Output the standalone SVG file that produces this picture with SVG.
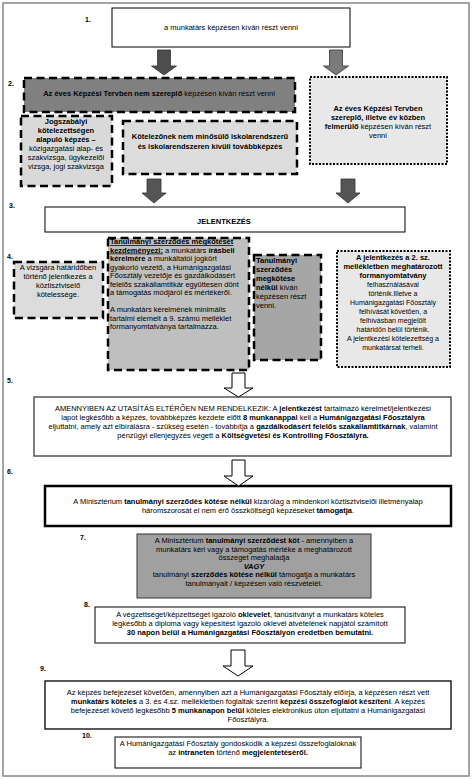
<svg xmlns="http://www.w3.org/2000/svg" width="472" height="779" viewBox="0 0 472 779">
<style>
text{font-family:"Liberation Sans",Arial,sans-serif;fill:#000;font-size:7.5px}
.c{text-anchor:middle}
.b{font-weight:bold}
.n{font-size:7px;font-weight:bold}
.plain{fill:#fff;stroke:#000;stroke-width:1}
.dash{stroke:#000;stroke-width:2.5;stroke-dasharray:8 4.5}
.dot{stroke:#000;stroke-width:2;stroke-dasharray:2 1.5}
.solidarrow{fill:#555;stroke:#333;stroke-width:0.8}
.hollow{fill:#fff;stroke:#000;stroke-width:1}
.u{text-decoration:underline}
</style>
<rect x="0" y="0" width="472" height="779" fill="#fff"/>
<rect x="3" y="3" width="466" height="773" fill="none" stroke="#888" stroke-width="1.5"/>

<g id="labels">
<text class="n" x="85" y="22">1.</text>
<text class="n" x="8" y="86">2.</text>
<text class="n" x="9" y="208">3.</text>
<text class="n" x="7" y="259">4.</text>
<text class="n" x="7" y="383">5.</text>
<text class="n" x="7" y="474">6.</text>
<text class="n" x="80" y="540">7.</text>
<text class="n" x="84" y="607">8.</text>
<text class="n" x="40" y="671">9.</text>
<text class="n" x="82" y="738">10.</text>
</g>

<g id="node1">
<rect class="plain" x="112" y="8" width="238" height="39"/>
<text class="c" x="231" y="30">a munkatárs  képzésen  kíván  részt venni</text>
</g>

<g id="node2a">
<rect class="dash" fill="#808080" x="24" y="78" width="271" height="34"/>
<text class="c" x="159" y="96"><tspan class="b">Az éves  Képzési  Tervben  nem  szereplő</tspan> képzésen  kíván  részt  venni</text>
</g>

<g id="node2b">
<rect class="dot" fill="#e8e8e8" x="310" y="77" width="137" height="87"/>
<text class="c b" x="378" y="111">Az éves  Képzési  Tervben</text>
<text class="c b" x="378" y="120">szereplő, illetve év közben</text>
<text class="c" x="378" y="129"><tspan class="b">felmerülő</tspan> képzésen kíván részt</text>
<text class="c" x="378" y="138">venni</text>
</g>

<g id="node2c">
<rect class="dash" fill="#d9d9d9" x="21" y="116" width="91" height="70"/>
<text class="c b" x="66" y="124">Jogszabályi</text>
<text class="c b" x="66" y="133">kötelezettségen</text>
<text class="c b" x="66" y="142">alapuló képzés –</text>
<text class="c" x="66" y="151">közigazgatási alap- és</text>
<text class="c" x="66" y="160">szakvizsga, ügykezelői</text>
<text class="c" x="66" y="169">vizsga, jogi szakvizsga</text>
</g>

<g id="node2d">
<rect class="dash" fill="#dcdcdc" x="123" y="121" width="174" height="53"/>
<text class="c b" x="210" y="139">Kötelezőnek nem minősülő iskolarendszerű</text>
<text class="c b" x="210" y="149">és iskolarendszeren  kívüli továbbképzés</text>
</g>

<g id="node3">
<rect class="plain" x="45" y="207" width="360" height="25"/>
<text class="c b" x="224" y="224">JELENTKEZÉS</text>
</g>

<g id="node4a">
<rect class="dash" fill="#dcdcdc" x="14" y="262" width="89" height="56"/>
<text class="c" x="58" y="270">A vizsgára határidőben</text>
<text class="c" x="58" y="279">történő jelentkezés a</text>
<text class="c" x="58" y="288">köztisztviselő</text>
<text class="c" x="58" y="297">kötelessége.</text>
</g>

<g id="node4b">
<rect class="dash" fill="#bfbfbf" x="108" y="238" width="141" height="132"/>
<text x="110" y="244"><tspan class="b u">Tanulmányi szerződés megkötését</tspan></text>
<text x="110" y="252.5"><tspan class="b u">kezdeményezi:</tspan> a munkatárs <tspan class="b">írásbeli</tspan></text>
<text x="110" y="261"><tspan class="b">kérelmére</tspan> a munkáltatói jogkört</text>
<text x="110" y="269.5">gyakorló vezető, a Humánigazgatási</text>
<text x="110" y="278">Főosztály vezetője és gazdálkodásért</text>
<text x="110" y="286.5">felelős szakállamtitkár együttesen dönt</text>
<text x="110" y="295">a támogatás módjáról és mértékéről.</text>
<text x="110" y="312">A munkatárs  kérelmének  minimális</text>
<text x="110" y="320.5">tartalmi elemeit  a 9.  számú  melléklet</text>
<text x="110" y="329">formanyomtatványa tartalmazza.</text>
</g>

<g id="node4c">
<rect class="dash" fill="#a6a6a6" x="254" y="255" width="67" height="105"/>
<text class="b" x="256" y="263">Tanulmányi</text>
<text class="b" x="256" y="272">szerződés</text>
<text class="b" x="256" y="281">megkötése</text>
<text x="256" y="290"><tspan class="b">nélkül</tspan> kíván</text>
<text x="256" y="299">képzésen  részt</text>
<text x="256" y="308">venni.</text>
</g>

<g id="node4d">
<rect class="dot" fill="#e8e8e8" x="337" y="251" width="113" height="116"/>
<text class="c b" x="393" y="260">A jelentkezés a 2. sz.</text>
<text class="c b" x="393" y="269">mellékletben meghatározott</text>
<text class="c b" x="393" y="278">formanyomtatvány</text>
<text class="c" x="393" y="287" style="font-size:7px">felhasználásával</text>
<text class="c" x="393" y="296" style="font-size:7px">történik.Illetve a</text>
<text class="c" x="393" y="305" style="font-size:7px">Humánigazgatási Főosztály</text>
<text class="c" x="393" y="314" style="font-size:7px">felhívását követően, a</text>
<text class="c" x="393" y="323" style="font-size:7px">felhívásban megjelölt</text>
<text class="c" x="393" y="332" style="font-size:7px">határidőn belül történik.</text>
<text class="c" x="393" y="341" style="font-size:7px">A jelentkezési  kötelezettség a</text>
<text class="c" x="393" y="350" style="font-size:7px">munkatársat  terheli.</text>
</g>

<g id="node5">
<rect fill="#fff" stroke="#555" stroke-width="1.5" x="34" y="397" width="417" height="59"/>
<text class="c" x="243" y="411">AMENNYIBEN AZ UTASÍTÁS  ELTÉRŐEN NEM RENDELKEZIK: A <tspan class="b">jelentkezést</tspan> tartalmazó  kérelmet/jelentkezési</text>
<text class="c" x="243" y="420">lapot legkésőbb a képzés, továbbképzés kezdete előtt <tspan class="b">8 munkanappal</tspan>  kell a <tspan class="b">Humánigazgatási  Főosztályra</tspan></text>
<text class="c" x="243" y="429">eljuttatni, amely azt elbírálásra  - szükség esetén - továbbítja a <tspan class="b">gazdálkodásért  felelős  szakállamtitkárnak</tspan>,  valamint</text>
<text class="c" x="243" y="438">pénzügyi ellenjegyzés végett a <tspan class="b">Költségvetési  és Kontrolling Főosztályra.</tspan></text>
</g>

<g id="node6">
<rect fill="#fff" stroke="#000" stroke-width="2.5" x="45" y="486" width="406" height="40"/>
<text class="c" x="248" y="504">A Minisztérium <tspan class="b">tanulmányi  szerződés  kötése  nélkül</tspan>  kizárólag  a  mindenkori  köztisztviselői  illetményalap</text>
<text class="c" x="248" y="513">háromszorosát el nem érő összköltségű képzéseket <tspan class="b">támogatja</tspan>.</text>
</g>

<g id="node7">
<rect fill="#a0a0a0" stroke="#333" stroke-width="1" x="137" y="534" width="234" height="64"/>
<text class="c" x="254" y="543">A Minisztérium <tspan class="b">tanulmányi  szerződést  köt</tspan>  - amennyiben a</text>
<text class="c" x="254" y="551.5">munkatárs  kéri vagy a támogatás mértéke a meghatározott</text>
<text class="c" x="254" y="560">összeget meghaladja</text>
<text class="c b" x="254" y="568.5" font-style="italic">VAGY</text>
<text class="c" x="254" y="577">tanulmányi <tspan class="b">szerződés  kötése  nélkül</tspan> támogatja a munkatárs</text>
<text class="c" x="254" y="585.5">tanulmányait / képzésen  való  részvételét.</text>
</g>

<g id="node8">
<rect class="plain" x="95" y="607" width="310" height="36"/>
<text class="c" x="250" y="617">A végzettséget/képzettséget igazoló <tspan class="b">oklevelet</tspan>,  tanúsítványt  a  munkatárs  köteles</text>
<text class="c" x="250" y="626">legkésőbb a diploma vagy képesítést igazoló oklevél átvételének napjától számított</text>
<text class="c b" x="250" y="635">30 napon belül a Humánigazgatási  Főosztályon eredetben  bemutatni.</text>
</g>

<g id="node9">
<rect fill="#fff" stroke="#000" stroke-width="1.3" x="45" y="681" width="406" height="48"/>
<text class="c" x="248" y="695">Az képzés befejezését követően, amennyiben azt a Humánigazgatási Főosztály előírja, a képzésen részt vett</text>
<text class="c" x="248" y="704"><tspan class="b">munkatárs köteles</tspan>  a 3. és 4.sz. mellékletben  foglaltak szerint  <tspan class="b">képzési  összefoglalót  készíteni</tspan>.  A képzés</text>
<text class="c" x="248" y="713">befejezését követő legkésőbb <tspan class="b">5 munkanapon  belül</tspan> köteles elektronikus  úton eljuttatni  a Humánigazgatási</text>
<text class="c" x="248" y="722">Főosztályra.</text>
</g>

<g id="node10">
<rect class="plain" x="115" y="737" width="246" height="31"/>
<text class="c" x="238" y="746">A Humánigazgatási Főosztály gondoskodik a képzési összefoglalóknak</text>
<text class="c" x="238" y="755">az <tspan class="b">intraneten</tspan>  történő  <tspan class="b">megjelentetéséről.</tspan></text>
</g>

<g id="connectors">
<polygon class="solidarrow" style="fill:#4d4d4d" points="157.5,50 170.5,50 170.5,66 176.5,66 164,75 151.5,66 157.5,66"/>
<polygon class="solidarrow" style="fill:#7a7a7a" points="329.5,50 342.5,50 342.5,66 348.5,66 336,75 323.5,66 329.5,66"/>
<polygon class="solidarrow" points="147,179 161,179 161,193 166,193 154,203 142,193 147,193"/>
<polygon class="solidarrow" points="341,179 355,179 355,193 360,193 348,203 336,193 341,193"/>
<polygon class="hollow" points="232,373 245,373 245,388 253,388 238.5,397 224,388 232,388"/>
<polygon class="hollow" points="232,460 245,460 245,476 253,476 238.5,486 224,476 232,476"/>
<polygon class="hollow" points="231,650 245,650 245,666 253,666 238,676 223,666 231,666"/>
</g>
</svg>
